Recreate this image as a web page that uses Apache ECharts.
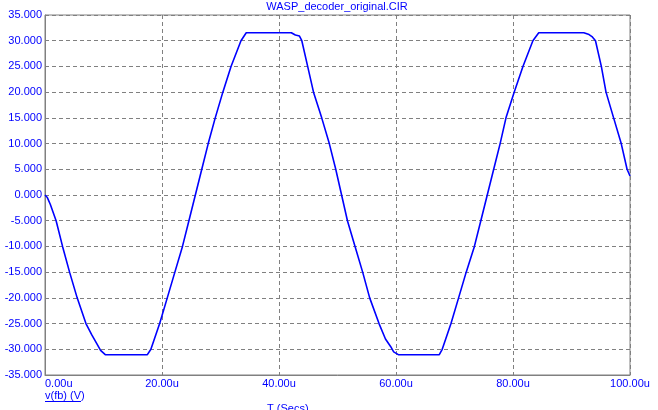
<!DOCTYPE html>
<html>
<head>
<meta charset="utf-8">
<script src="https://cdn.jsdelivr.net/npm/echarts@6/dist/echarts.min.js"></script>
<style>
html,body{margin:0;padding:0;background:#fff;}
#c{width:658px;height:410px;}
</style>
</head>
<body>
<div id="c"></div>
<script>
const chartTitle = "WASP_decoder_original.CIR";
const xAxisName = "T (Secs)";
const seriesName = "v(fb) (V)";
// time in microseconds
const timeUs = [0, 0.4, 0.9, 1.9, 3.0, 4.2, 5.5, 7.0, 8.0, 8.9, 9.5, 10.3, 17.5, 18.1, 19.6, 20.9, 22.2, 23.5, 24.6, 25.7, 26.8, 27.9, 29.1, 30.4, 31.8, 33.5, 34.4, 42.1, 42.8, 43.5, 43.9, 44.9, 45.9, 47.3, 48.6, 49.7, 50.7, 51.7, 53.0, 54.3, 55.5, 57.1, 58.2, 59.1, 59.6, 60.4, 67.4, 67.9, 69.4, 70.7, 72.0, 73.4, 74.5, 75.6, 76.7, 77.8, 78.8, 80.2, 81.7, 83.4, 84.4, 92.1, 93.0, 93.5, 94.1, 95.1, 95.9, 97.2, 98.5, 99.5, 100.0];
// voltage in volts
const voltage = [0, -0.5, -1.8, -5, -10, -15, -20, -25, -27.2, -29.0, -30.2, -31.05, -31.05, -30, -25, -20, -15, -10, -5, 0, 5, 10, 15, 20, 25, 30, 31.55, 31.55, 31.1, 30.9, 30, 25, 20, 15, 10, 5, 0, -5, -10, -15, -20, -25, -28.0, -29.5, -30.5, -31.05, -31.05, -30, -25, -20, -15, -10, -5, 0, 5, 10, 15, 20, 25, 30, 31.55, 31.55, 31.2, 30.8, 30, 25, 20, 15, 10, 5, 3.7];
const xTicks = {min: 0, max: 100, interval: 20};
const yTicks = {min: -35, max: 35, interval: 5};

const blue = '#0000ff';
const gray = '#808080';
const font = 'Liberation Sans, Arial, sans-serif';

const chart = echarts.init(document.getElementById('c'), null, {renderer: 'canvas'});
chart.setOption({
  animation: false,
  backgroundColor: '#fff',
  title: {
    text: chartTitle, left: 337, top: 1, padding: 0, textAlign: 'center',
    textStyle: {color: blue, fontSize: 11, fontWeight: 'normal', fontFamily: font}
  },
  grid: {left: 45, right: 28, top: 15, bottom: 35, show: true, borderColor: gray, borderWidth: 1, backgroundColor: 'transparent'},
  xAxis: {
    type: 'value', min: xTicks.min, max: xTicks.max, interval: xTicks.interval,
    axisLine: {show: true, onZero: false, lineStyle: {color: gray, width: 1}},
    axisTick: {show: false},
    splitLine: {show: true, lineStyle: {color: gray, type: [4, 3], width: 1}},
    axisLabel: {color: blue, fontSize: 11, fontFamily: font, margin: 3, alignMinLabel: 'left',
      formatter: v => v.toFixed(2) + 'u'}
  },
  yAxis: {
    type: 'value', min: yTicks.min, max: yTicks.max, interval: yTicks.interval,
    axisLine: {show: true, onZero: false, lineStyle: {color: gray, width: 1}},
    axisTick: {show: false},
    splitLine: {show: true, lineStyle: {color: gray, type: [4, 3], width: 1}},
    axisLabel: {color: blue, fontSize: 11, fontFamily: font, margin: 3,
      formatter: v => v.toFixed(3)}
  },
  graphic: [
    {type: 'text', left: 45, top: 390, style: {text: seriesName, fill: blue, font: '11px ' + font}},
    {type: 'line', shape: {x1: 45, y1: 401.5, x2: 81, y2: 401.5}, style: {stroke: blue, lineWidth: 1}},
    {type: 'text', left: 267, top: 403, style: {text: xAxisName, fill: blue, font: '11px ' + font}}
  ],
  series: [{
    name: seriesName, type: 'line', showSymbol: false, symbol: 'none',
    data: timeUs.map((t, i) => [t, voltage[i]]),
    lineStyle: {color: blue, width: 1.6}, itemStyle: {color: blue}
  }]
});
</script>
</body>
</html>
